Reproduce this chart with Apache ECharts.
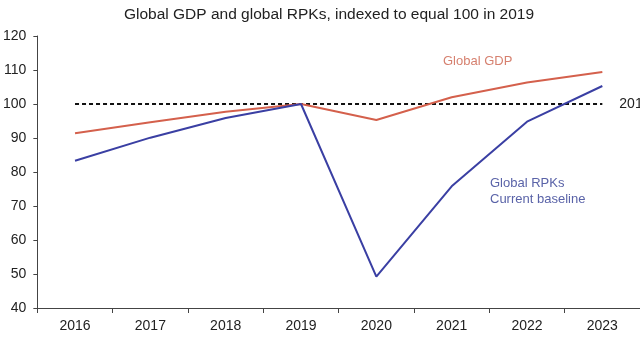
<!DOCTYPE html>
<html>
<head>
<meta charset="utf-8">
<script src="https://cdn.jsdelivr.net/npm/echarts@6/dist/echarts.min.js"></script>
<style>html,body{margin:0;padding:0;background:#fff}#c{width:640px;height:360px}</style>
</head>
<body>
<div id="c"></div>
<script>
const years = ['2016','2017','2018','2019','2020','2021','2022','2023'];
const gdp = [91.4, 94.6, 97.7, 100, 95.3, 102, 106.3, 109.4];
const rpk = [83.3, 90.1, 95.9, 100, 49.2, 75.8, 94.8, 105.3];
const baseline = [100, 100, 100, 100, 100, 100, 100, 100];
const yTicks = [40, 50, 60, 70, 80, 90, 100, 110, 120];

const chart = echarts.init(document.getElementById('c'), null, {renderer: 'canvas'});
const font = 'Liberation Sans, Arial, sans-serif';
chart.setOption({
  animation: false,
  backgroundColor: '#fff',
  title: {
    text: 'Global GDP and global RPKs, indexed to equal 100 in 2019',
    left: 324, top: 2, textAlign: 'center',
    textStyle: {fontFamily: font, fontSize: 15.5, fontWeight: 'normal', color: '#222'}
  },
  grid: {left: 37, right: 0, top: 36, bottom: 52},
  xAxis: {
    type: 'category', data: years, boundaryGap: true,
    axisLine: {lineStyle: {color: '#444', width: 1}},
    axisTick: {show: true, length: 5, lineStyle: {color: '#444'}},
    axisLabel: {fontFamily: font, fontSize: 14, color: '#222', margin: 11}
  },
  yAxis: {
    type: 'value', min: yTicks[0], max: yTicks[yTicks.length - 1], interval: 10,
    axisLine: {show: true, lineStyle: {color: '#444', width: 1}},
    axisTick: {show: true, length: 4, lineStyle: {color: '#444'}},
    splitLine: {show: false},
    axisLabel: {fontFamily: font, fontSize: 14, color: '#222', margin: 11}
  },
  graphic: [
    {type: 'text', left: 443, top: 55, style: {text: 'Global GDP', fill: '#d6806f', font: '13px ' + font}},
    {type: 'text', left: 490, top: 175, style: {text: 'Global RPKs\nCurrent baseline', fill: '#5a63a8', font: '13px ' + font, lineHeight: 16}}
  ],
  series: [
    {
      name: '2019', type: 'line', data: baseline, symbol: 'none', silent: true,
      lineStyle: {color: '#111', width: 1.8, type: [4, 3]},
      endLabel: {show: true, formatter: '2019 level', distance: 17, fontFamily: font, fontSize: 14, color: '#222'},
      z: 1
    },
    {
      name: 'Global GDP', type: 'line', data: gdp, symbol: 'none',
      lineStyle: {color: '#d4604c', width: 2}, z: 2
    },
    {
      name: 'Global RPKs', type: 'line', data: rpk, symbol: 'none',
      lineStyle: {color: '#3a3fa3', width: 2}, z: 3
    }
  ]
});
</script>
</body>
</html>
